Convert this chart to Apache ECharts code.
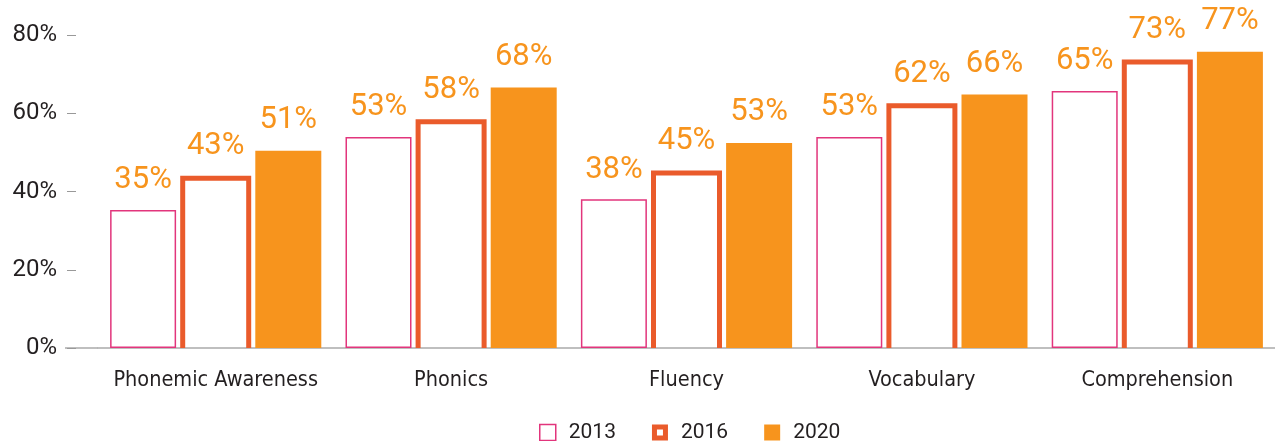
<!DOCTYPE html>
<html>
<head>
<meta charset="utf-8">
<script src="https://cdn.jsdelivr.net/npm/echarts@6/dist/echarts.min.js"></script>
<style>
  html, body { margin: 0; padding: 0; background: #fff; }
  #chart { width: 1275px; height: 441px; }
</style>
</head>
<body>
<div id="chart"></div>
<script>
const categories = ["Phonemic Awareness", "Phonics", "Fluency", "Vocabulary", "Comprehension"];
const years = ["2013", "2016", "2020"];
// bar heights as drawn (percent)
const values2013 = [35.3, 53.9, 38.0, 53.9, 65.7];
const values2016 = [43.4, 57.8, 44.7, 61.9, 73.1];
const values2020 = [50.4, 66.6, 52.4, 64.8, 75.7];
// printed labels
const labels2013 = ["35%", "53%", "38%", "53%", "65%"];
const labels2016 = ["43%", "58%", "45%", "62%", "73%"];
const labels2020 = ["51%", "68%", "53%", "66%", "77%"];
const yTicks = [0, 20, 40, 60, 80];

const FONT = "Roboto, sans-serif";
const FONT_NARROW = '"DejaVu Sans Condensed", Roboto, sans-serif';
const PINK = "#E2357C";
const RED = "#EA5B2B";
const ORANGE = "#F7941D";
const TEXT = "#231F20";
const BAR_W = 66;
const LABEL_SIZE = 31;

const chart = echarts.init(document.getElementById("chart"));

function valueLabel(labels, dist) {
  return {
    show: true,
    position: "top",
    distance: dist,
    color: ORANGE,
    fontFamily: FONT,
    fontSize: LABEL_SIZE,
    formatter: (p) => labels[p.dataIndex],
  };
}

// 2016 bars: open at the bottom, thick outline
function renderOpenBar(params, api) {
  const i = params.dataIndex;
  const base = api.coord([api.value(0), 0]);
  const top = api.coord([api.value(0), api.value(1)]);
  const half = BAR_W / 2;
  const cx = base[0];
  return {
    type: "group",
    children: [
      {
        type: "polyline",
        shape: {
          points: [
            [cx - half, base[1]],
            [cx - half, top[1]],
            [cx + half, top[1]],
            [cx + half, base[1]],
          ],
        },
        style: { stroke: RED, lineWidth: 5, fill: null, lineJoin: "miter" },
      },
      {
        type: "text",
        x: cx,
        y: top[1] - 16,
        style: {
          text: labels2016[i],
          fill: ORANGE,
          fontFamily: FONT,
          fontSize: LABEL_SIZE,
          align: "center",
          verticalAlign: "bottom",
        },
      },
    ],
  };
}

function doChart() {
  const option = {
    animation: false,
    grid: {
      left: 98,
      right: -5,
      top: 35,
      bottom: 93,
    },
    legend: {
      left: 534,
      top: 417,
      itemWidth: 16,
      itemHeight: 16,
      itemGap: 36,
      textStyle: {
        fontFamily: FONT,
        fontSize: 21,
        color: TEXT,
        padding: [0, 0, 0, 8],
      },
      data: [
        {
          name: years[0],
          icon: "rect",
          itemStyle: { color: "#fff", borderColor: PINK, borderWidth: 1.5 },
        },
        {
          name: years[1],
          icon: "path://M0,0H16V16H0Z M5,5V11H11V5Z",
          itemStyle: { color: RED, borderWidth: 0 },
        },
        {
          name: years[2],
          icon: "rect",
          itemStyle: { color: ORANGE, borderWidth: 0 },
        },
      ],
    },
    xAxis: {
      type: "category",
      data: categories,
      axisLine: { lineStyle: { color: "#aaa", width: 1.5 } },
      axisTick: { alignWithLabel: true, length: 10, lineStyle: { color: "#999" } },
      axisLabel: {
        interval: 0,
        fontFamily: FONT_NARROW,
        fontSize: 21.5,
        color: TEXT,
        margin: 21,
      },
    },
    yAxis: {
      type: "value",
      min: yTicks[0],
      max: yTicks[yTicks.length - 1],
      interval: yTicks[1] - yTicks[0],
      offset: 22,
      axisLine: { show: false },
      axisTick: { show: true, length: 9, lineStyle: { color: "#999" } },
      splitLine: { show: false },
      axisLabel: {
        fontFamily: FONT,
        fontSize: 24,
        color: TEXT,
        margin: 19,
        formatter: "{value}%",
      },
    },
    series: [
      {
        name: years[0],
        type: "bar",
        data: values2013,
        barWidth: BAR_W,
        barGap: "120%",
        itemStyle: { color: "#fff", borderColor: PINK, borderWidth: 1.5 },
        label: valueLabel(labels2013, 14),
      },
      {
        name: years[1],
        type: "custom",
        data: values2016.map((v, i) => [i, v]),
        encode: { x: 0, y: 1 },
        renderItem: renderOpenBar,
        z: 3,
      },
      {
        name: years[2],
        type: "bar",
        data: values2020,
        barWidth: BAR_W,
        barGap: "120%",
        itemStyle: { color: ORANGE },
        label: valueLabel(labels2020, 15),
      },
    ],
  };
  chart.setOption(option);

  // the baseline runs a bit further left than the plot area
  const y0 = chart.convertToPixel({ yAxisIndex: 0 }, 0);
  chart.setOption({
    graphic: [
      {
        type: "line",
        shape: { x1: 65, y1: y0, x2: option.grid.left, y2: y0 },
        style: { stroke: "#aaa", lineWidth: 1.5 },
      },
    ],
  });
}

doChart();
</script>
</body>
</html>
